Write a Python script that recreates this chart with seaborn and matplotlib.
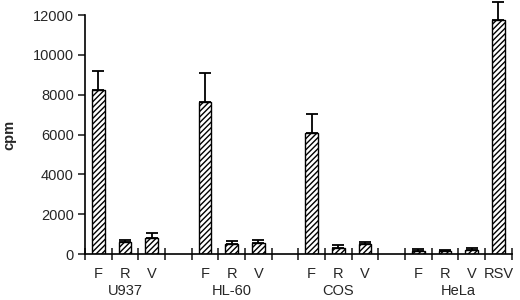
import matplotlib
matplotlib.use("Agg")
import matplotlib.pyplot as plt
import seaborn as sns
import pandas as pd
import numpy as np
from matplotlib.ticker import FixedLocator

sns.set_style("ticks")
plt.rcParams['font.family'] = ['Liberation Sans', 'DejaVu Sans']
plt.rcParams['hatch.linewidth'] = 1.0

groups = ["U937", "HL-60", "COS", "HeLa"]
bar_labels = [["F", "R", "V"], ["F", "R", "V"], ["F", "R", "V"], ["F", "R", "V", "RSV"]]
values = [[8250, 620, 820], [7630, 500, 580], [6080, 300, 520], [180, 170, 220, 11750]]
errors = [[920, 110, 230], [1480, 180, 150], [960, 150, 100], [60, 60, 80, 920]]

rows = []
for g, (name, labs, vals, errs) in enumerate(zip(groups, bar_labels, values, errors)):
    for j, (lab, v, e) in enumerate(zip(labs, vals, errs)):
        rows.append({"pos": g * 4 + j, "label": lab, "group": name, "cpm": v, "err": e})
df = pd.DataFrame(rows)

fig = plt.figure(figsize=(5.2, 3.0), dpi=100)
ax = fig.add_axes([0.1635, 0.153, 0.8205, 0.797])

sns.barplot(data=df, x="pos", y="cpm", native_scale=True, width=0.48,
            color="white", edgecolor="black", linewidth=1.0, errorbar=None, ax=ax)
for p in ax.patches:
    p.set_hatch("//////")
    p.set_facecolor("white")
    p.set_edgecolor("black")

ax.errorbar(df["pos"], df["cpm"], yerr=[np.zeros(len(df)), df["err"]],
            fmt="none", ecolor="black", elinewidth=1.3, capsize=4.6, capthick=1.3,
            clip_on=False)

ax.set_xlim(-0.5, 15.5)
ax.set_ylim(0, 12000)
ax.set_yticks(np.arange(0, 12001, 2000))
ax.set_xticks(df["pos"])
ax.set_xticklabels(df["label"], fontsize=10.5)
ax.xaxis.set_minor_locator(FixedLocator(np.arange(-0.5, 15.6, 1.0)))
ax.tick_params(axis="x", which="major", length=0, pad=9)
ax.tick_params(axis="x", which="minor", direction="inout", length=8, width=1.2)
ax.tick_params(axis="y", which="major", length=5, width=1.2, labelsize=10.5, pad=3)
for s in ["top", "right"]:
    ax.spines[s].set_visible(False)
for s in ["left", "bottom"]:
    ax.spines[s].set_linewidth(1.2)
    ax.spines[s].set_color("black")
ax.set_xlabel("")
ax.set_ylabel("cpm", fontsize=10.5, fontweight="bold", labelpad=12)

for g, (name, labs) in enumerate(zip(groups, bar_labels)):
    center = g * 4 + (len(labs) - 1) / 2
    ax.text(center, -0.155, name, transform=ax.get_xaxis_transform(),
            ha="center", va="center", fontsize=10.5)

fig.savefig("out.png", dpi=100)
